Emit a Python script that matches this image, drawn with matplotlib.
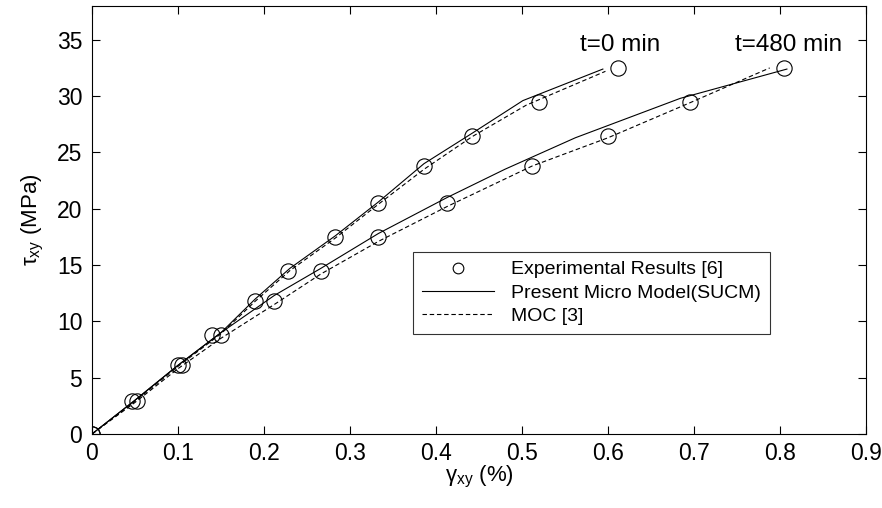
import matplotlib
matplotlib.use("Agg")
from matplotlib import pyplot as plt

plt.rcParams['font.family'] = ['Liberation Sans', 'DejaVu Sans']
plt.rcParams['mathtext.fontset'] = 'custom'
plt.rcParams['mathtext.rm'] = 'Liberation Sans'
plt.rcParams['mathtext.it'] = 'Liberation Sans'

# experimental points
exp_x_t0 = [0, 0.047, 0.100, 0.140, 0.190, 0.228, 0.283, 0.333, 0.386, 0.442, 0.520, 0.612]
exp_y_t0 = [0, 2.9, 6.1, 8.8, 11.8, 14.5, 17.5, 20.5, 23.8, 26.5, 29.5, 32.5]
exp_x_t480 = [0, 0.052, 0.105, 0.150, 0.212, 0.266, 0.333, 0.413, 0.512, 0.600, 0.695, 0.805]
exp_y_t480 = [0, 2.9, 6.1, 8.8, 11.8, 14.5, 17.5, 20.5, 23.8, 26.5, 29.5, 32.5]

# present micro model (SUCM)
sucm_x_t0 = [0, 0.05, 0.10, 0.15, 0.19, 0.23, 0.283, 0.333, 0.386, 0.442, 0.501, 0.594]
sucm_y_t0 = [0, 3.0, 6.1, 9.0, 12.0, 14.7, 17.6, 20.6, 24.0, 26.7, 29.6, 32.4]
sucm_x_t480 = [0, 0.05, 0.10, 0.15, 0.212, 0.266, 0.333, 0.413, 0.48, 0.562, 0.684, 0.808]
sucm_y_t480 = [0, 3.0, 6.1, 9.0, 12.3, 14.7, 17.8, 21.0, 23.5, 26.3, 29.8, 32.4]

# MOC
moc_x_t0 = [0, 0.05, 0.10, 0.15, 0.19, 0.23, 0.283, 0.333, 0.386, 0.442, 0.505, 0.597]
moc_y_t0 = [0, 2.9, 6.0, 8.9, 11.8, 14.5, 17.4, 20.4, 23.5, 26.4, 29.2, 32.2]
moc_x_t480 = [0, 0.05, 0.10, 0.15, 0.212, 0.266, 0.333, 0.413, 0.512, 0.600, 0.695, 0.788]
moc_y_t480 = [0, 2.8, 5.8, 8.5, 11.5, 14.2, 17.1, 20.2, 23.8, 26.3, 29.4, 32.5]

fig = plt.figure(figsize=(8.82, 5.08), dpi=100)
ax = fig.add_axes([0.1043, 0.1457, 0.8776, 0.8425])

lw = 0.8
ax.plot(exp_x_t0, exp_y_t0, 'o', mfc='none', mec='black', ms=11, mew=0.8,
        label='Experimental Results [6]')
ax.plot(exp_x_t480, exp_y_t480, 'o', mfc='none', mec='black', ms=11, mew=0.8)
ax.plot(sucm_x_t0, sucm_y_t0, '-', color='black', lw=lw,
        label='Present Micro Model(SUCM)')
ax.plot(sucm_x_t480, sucm_y_t480, '-', color='black', lw=lw)
ax.plot(moc_x_t0, moc_y_t0, '--', color='black', lw=lw, dashes=(4, 2.5),
        label='MOC [3]')
ax.plot(moc_x_t480, moc_y_t480, '--', color='black', lw=lw, dashes=(4, 2.5))

ax.text(0.567, 34.5, 't=0 min', fontsize=17.5, ha='left', va='center')
ax.text(0.748, 34.5, 't=480 min', fontsize=17.5, ha='left', va='center')

ax.set_xlim(0, 0.9)
ax.set_ylim(0, 38)
ax.set_xticks([0, 0.1, 0.2, 0.3, 0.4, 0.5, 0.6, 0.7, 0.8, 0.9])
ax.set_xticklabels(['0', '0.1', '0.2', '0.3', '0.4', '0.5', '0.6', '0.7', '0.8', '0.9'])
ax.set_yticks([0, 5, 10, 15, 20, 25, 30, 35])
ax.tick_params(direction='in', top=True, right=True, length=6, width=0.8,
               labelsize=16.5)
ax.tick_params(axis='x', pad=6)
ax.tick_params(axis='y', pad=7)
for s in ax.spines.values():
    s.set_linewidth(0.8)

ax.set_xlabel(r'$\mathrm{\gamma_{xy}}$ (%)', fontsize=16, labelpad=-1)
ax.set_ylabel(r'$\mathrm{\tau_{xy}}$ (MPa)', fontsize=16, labelpad=8)

leg = ax.legend(loc='upper left', bbox_to_anchor=(0.4147, 0.4252), fontsize=14,
                frameon=True, fancybox=False, edgecolor='black', markerscale=0.7,
                handlelength=3.7, handletextpad=0.9, borderpad=0.45,
                labelspacing=0.3, borderaxespad=0)
leg.get_frame().set_linewidth(0.8)

fig.savefig('out.png', dpi=100)
